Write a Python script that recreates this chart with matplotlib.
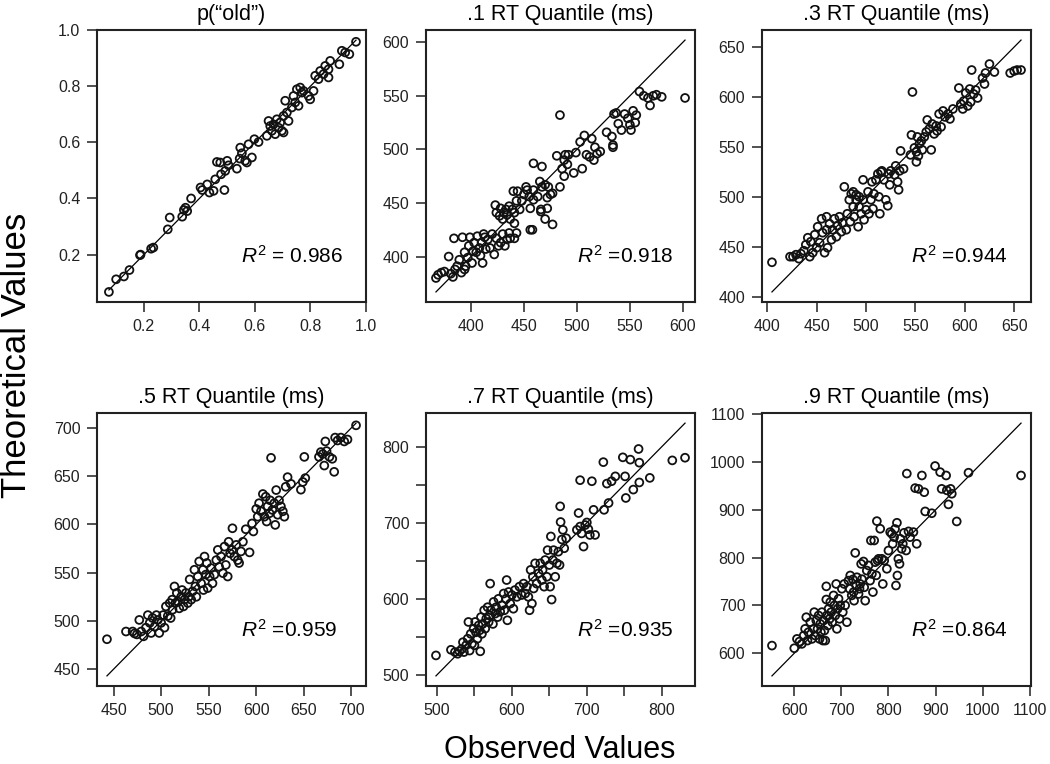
import matplotlib
matplotlib.use("Agg")
import matplotlib.pyplot as plt
import numpy as np

plt.rcParams['font.family'] = ['Liberation Sans', 'DejaVu Sans']
plt.rcParams['mathtext.fontset'] = 'custom'
plt.rcParams['mathtext.rm'] = 'Liberation Sans'
plt.rcParams['mathtext.it'] = 'Liberation Sans:italic'

# ---------------- data ----------------
titles = ['p(\u201cold\u201d)', '.1 RT Quantile (ms)', '.3 RT Quantile (ms)',
          '.5 RT Quantile (ms)', '.7 RT Quantile (ms)', '.9 RT Quantile (ms)']
r2_labels = ['$R^2$ = 0.986', '$R^2$ =0.918', '$R^2$ =0.944',
             '$R^2$ =0.959', '$R^2$ =0.935', '$R^2$ =0.864']

pold_obs = [0.074, 0.100, 0.128, 0.148, 0.186, 0.188, 0.226, 0.234, 0.286, 0.293,
            0.338, 0.344, 0.350, 0.356, 0.370, 0.404, 0.410, 0.428, 0.436, 0.451,
            0.457, 0.463, 0.475, 0.478, 0.490, 0.493, 0.500, 0.505, 0.535, 0.545,
            0.547, 0.553, 0.565, 0.571, 0.577, 0.589, 0.598, 0.613, 0.643, 0.649,
            0.655, 0.661, 0.667, 0.673, 0.679, 0.685, 0.691, 0.697, 0.703, 0.703,
            0.709, 0.715, 0.721, 0.733, 0.739, 0.745, 0.751, 0.757, 0.763, 0.769,
            0.775, 0.793, 0.799, 0.811, 0.817, 0.829, 0.835, 0.847, 0.853, 0.865,
            0.865, 0.871, 0.904, 0.913, 0.925, 0.940, 0.964]
pold_theo = [0.067, 0.112, 0.122, 0.145, 0.198, 0.200, 0.221, 0.225, 0.290, 0.332,
             0.335, 0.359, 0.367, 0.355, 0.400, 0.439, 0.430, 0.450, 0.421, 0.427,
             0.468, 0.530, 0.528, 0.486, 0.430, 0.498, 0.534, 0.518, 0.506, 0.542,
             0.581, 0.561, 0.534, 0.528, 0.593, 0.546, 0.611, 0.601, 0.623, 0.676,
             0.658, 0.641, 0.664, 0.629, 0.682, 0.652, 0.670, 0.641, 0.694, 0.635,
             0.748, 0.706, 0.676, 0.724, 0.765, 0.742, 0.789, 0.730, 0.795, 0.777,
             0.783, 0.765, 0.753, 0.783, 0.837, 0.825, 0.854, 0.843, 0.872, 0.860,
             0.831, 0.890, 0.878, 0.926, 0.920, 0.914, 0.958]

q1_obs = [367, 369, 372, 375, 379, 381, 383, 384, 385, 387, 389, 391, 392, 394, 394,
          395, 397, 398, 399, 401, 402, 403, 405, 406, 408, 409, 410, 411, 412, 413,
          414, 416, 418, 420, 422, 424, 426, 428, 430, 432, 434, 436, 437, 441, 443,
          423, 424, 427, 428, 430, 431, 433, 434, 436, 437, 439, 441, 441, 440, 443,
          444, 446, 448, 450, 452, 453, 455, 456, 456, 458, 459, 459, 463, 466, 467,
          459, 467, 465, 470, 472, 473, 475, 477, 466, 472, 470, 477,
          481, 484, 484, 486, 488, 488, 489, 491, 492, 497, 499, 503, 505, 507, 509,
          512, 514, 516, 517, 519, 522, 528, 533, 534, 534, 535, 537, 539, 542, 545,
          548, 550, 551, 553, 555, 556, 559, 563, 567, 569, 572, 575, 580, 602]
q1_theo = [380, 383, 385, 386, 400, 384, 381, 417, 388, 391, 397, 385, 418, 388, 404,
           391, 399, 410, 418, 394, 405, 413, 404, 419, 408, 401, 413, 394, 421, 418,
           407, 416, 408, 421, 402, 417, 410, 413, 421, 410, 416, 422, 417, 417, 422,
           448, 441, 438, 445, 435, 441, 444, 439, 447, 435, 444, 431, 441, 461, 452,
           461, 444, 452, 458, 465, 462, 456, 445, 425, 425, 462, 453, 456, 444, 465,
           487, 484, 470, 467, 455, 465, 458, 459, 442, 445, 435, 430,
           494, 465, 532, 482, 490, 475, 495, 486, 495, 478, 497, 507, 482, 513, 495,
           493, 510, 490, 502, 496, 498, 516, 512, 504, 502, 533, 534, 524, 518, 533,
           529, 523, 518, 536, 525, 532, 554, 550, 548, 541, 550, 551, 549, 548]

q3_obs = [404.7, 423, 426, 429, 432, 434, 437, 439, 441, 443, 444, 446, 448, 450, 451,
          453, 455, 456, 458, 460, 460, 461, 463, 465, 466, 468, 470, 471, 473, 475,
          476, 478, 480, 481, 483, 484, 485, 487, 487, 488, 490, 490, 492, 493, 493,
          495, 497, 497, 498, 500, 502, 503, 505, 506, 507, 508, 510, 512, 513, 514,
          515, 516, 518, 520, 522, 523, 524, 525, 529, 530, 532, 533, 534, 535, 538,
          545, 546, 547, 549, 551, 551, 552, 553, 554, 556, 557, 559, 561, 562, 564,
          566, 567, 569, 571, 572, 574, 576, 578, 580, 583, 585, 588, 594, 596, 598,
          599, 601, 603, 605, 606, 607, 609, 611, 613, 618, 620, 621, 625, 630, 646,
          650, 653, 657]
q3_theo = [434.4, 440, 440, 442, 438, 443, 446, 452, 459, 440, 455, 444, 462, 449, 470,
           454, 478, 464, 444, 480, 467, 449, 473, 457, 467, 478, 460, 471, 480, 465,
           474, 510, 467, 483, 497, 475, 503, 490, 505, 480, 497, 502, 470, 490, 500,
           483, 517, 497, 477, 487, 505, 483, 497, 515, 488, 503, 517, 523, 500, 483,
           525, 526, 517, 497, 491, 523, 512, 526, 522, 531, 515, 507, 526, 546, 528,
           542, 562, 605, 549, 535, 545, 560, 541, 553, 556, 547, 560, 565, 577, 568,
           547, 573, 563, 571, 566, 583, 570, 586, 580, 583, 578, 588, 609, 593, 588,
           596, 604, 591, 608, 595, 627, 603, 607, 599, 619, 613, 624, 633, 625, 624,
           626, 627, 627]

q5_obs = [443, 463, 470, 472, 474.5, 477, 479, 481.5, 484, 486, 488, 489.5, 491, 493,
          495, 496.5, 498, 500, 502, 503.5, 505, 507, 509, 510, 511.6, 512, 514, 515,
          516.5, 517.6, 519, 521, 522, 523.5, 524.6, 526, 528, 529, 530, 531.6, 533,
          535, 536, 537, 538.6, 540, 542, 544, 544.5, 545.6, 547, 548, 549, 551, 552.6,
          554, 556, 558, 559.6, 561, 563, 565, 566.6, 568, 570, 571, 572.5, 574.6, 575,
          577, 579, 580.6, 582, 584, 586, 589, 593, 595.6, 597, 600, 601.6, 603, 605,
          607, 608.6, 610, 611, 612, 614, 614.6, 615.6, 617, 619, 620, 621, 622.6, 624,
          626, 628, 629.6, 631, 633, 636.6, 647, 649, 650.6, 651.6, 666, 668, 670,
          671.6, 672.7, 674, 677, 680, 682, 683, 685.6, 689, 692.6, 696, 705]
q5_theo = [481, 489, 489, 487, 486, 501, 489, 484, 493, 506, 498, 487.5, 503, 494,
           506, 501, 487.5, 498, 506, 493, 515, 505, 518.5, 503, 522, 511.6, 535.7,
           518.5, 529, 520, 513, 525, 532, 515, 522, 529, 518.5, 525, 543, 522, 530.6,
           553, 535.7, 525, 546, 561.6, 539, 553, 532, 566.7, 548, 560, 534, 546, 554.7,
           539, 548, 563, 573.6, 556, 566.7, 549.5, 577, 558, 546, 582, 570, 573.6, 596,
           566.7, 578.8, 563, 560, 572, 582, 595, 571, 601, 592.7, 616, 608, 622, 613.6,
           631.5, 608, 628.7, 603, 618.7, 611.6, 625, 669, 615, 622, 599.5, 635.6, 610,
           625, 618.7, 613.6, 608, 639, 649, 642, 636, 644, 670, 648, 670, 675, 673,
           661, 686, 676, 670, 668, 654.5, 690, 687, 690, 686, 688, 702.7]

q7_obs = [498.7, 518.7, 524, 527.6, 530, 533, 534.7, 536, 539, 541, 542, 543.6, 545,
          546.7, 549, 550, 551, 552, 554, 555.6, 557, 557.8, 558.7, 560, 561, 563,
          564.4, 565.8, 567.6, 569, 570, 571, 572, 574.7, 575.6, 577.8, 579, 581, 582,
          584.4, 586.7, 589, 590, 592, 593, 594, 595.6, 597.8, 600, 602, 604, 606.7,
          610, 613, 615.6, 617.8, 620, 622, 623.6, 625, 626.7, 628, 629, 631, 633,
          635.6, 637.8, 640, 641, 643, 644.4, 646.7, 647.6, 650, 651, 652, 653, 654.7,
          655.6, 657.8, 660, 662, 663.6, 664.4, 665, 666.7, 668, 669.8, 672.4, 686.7,
          689, 691, 691, 693, 695.6, 697.8, 700, 702, 704, 706.7, 709, 711, 722, 723,
          726.7, 729, 733, 738, 748, 751, 752, 758, 762, 769, 770, 770, 784, 814, 831]
q7_theo = [525.6, 533, 530, 527.8, 531, 534, 543, 530, 539, 547.6, 569.6, 532, 554,
           541, 560.8, 539, 569.6, 556, 547.6, 565, 558.6, 531, 576, 554, 567, 585,
           560.8, 574, 589, 569.6, 578, 620, 585, 567, 596, 580.6, 589, 576, 600, 583,
           591.6, 607, 585, 600, 624.7, 571.8, 609, 593.8, 605, 587, 611.5, 602.6, 616,
           605, 620, 607, 616, 602.6, 585, 638, 593.8, 629, 613.6, 646.7, 620, 633.5,
           646.7, 624.7, 638, 616, 651, 629, 664, 644.5, 616, 682, 599, 651, 664, 629,
           646.7, 662, 644.5, 721.6, 701, 678, 690.7, 666.5, 679.7, 690.7, 712.8, 756,
           695, 686, 668.7, 697, 700.4, 691.6, 684, 754.6, 717, 684, 779.7, 717, 751.5,
           726, 754.6, 761, 786, 761, 732.6, 783, 743.6, 797, 779, 753, 759, 782, 785.5]

q9_obs = [552.6, 600, 605.7, 611, 616, 620, 623, 625.5, 628, 630, 634, 637.5, 641,
          642.4, 644.6, 646.7, 649.5, 651.6, 653.7, 655, 656.6, 658.7, 660.8, 662, 664,
          665.8, 668, 668, 669, 671.4, 672.8, 675, 676.4, 678.5, 680.6, 683.4, 685, 687,
          689, 690.5, 692, 694, 696, 697.6, 701, 703, 706, 708, 711.7, 715, 717.4,
          718.8, 722, 724.5, 726, 727, 729.4, 731.5, 733, 736.5, 738.6, 740, 742, 743.6,
          747, 748.5, 750.6, 754, 757.7, 761, 762.7, 764.8, 767, 769.7, 771.8, 774,
          775.4, 776.8, 779, 782.5, 786, 788, 791, 796.6, 800, 803.7, 807, 809, 812,
          814, 816, 818, 819, 821, 823.5, 825, 828, 830.5, 833, 837.6, 839, 842.6, 846,
          853, 856.7, 860, 863.8, 871, 876, 878, 892, 899, 909.8, 913, 922.5, 924,
          927.4, 932, 934.5, 945, 970, 1081.6]
q9_theo = [616, 610.5, 630, 624.4, 619.6, 637, 651, 675.4, 626.5, 644, 665, 630, 651,
           686, 637, 668.4, 651, 679, 630, 661.5, 644, 686, 626.5, 668.4, 647.5, 626.5,
           712.4, 740, 679, 658, 693, 672, 707, 686, 665, 721, 700, 679, 745, 651, 693,
           714, 672, 700, 735, 686, 745, 700, 665, 752, 735, 762.7, 721, 754.5, 728, 710,
           810, 741.8, 759, 724, 735, 745, 787, 755, 792, 738, 710, 773, 783.7, 752,
           836, 766, 728, 836, 790.6, 763, 876.5, 794, 797.6, 860.5, 797.6, 745, 794,
           776.7, 815, 853.5, 850, 829, 843, 860, 741.8, 873, 762.7, 797.6, 787, 839.5,
           818.6, 829, 852, 815, 976, 855, 843, 853.5, 945.6, 829, 944, 972, 937, 896.8,
           893, 991.8, 979, 944, 972, 941, 911.5, 944, 933.8, 875.8, 977.8, 972]

observed = [pold_obs, q1_obs, q3_obs, q5_obs, q7_obs, q9_obs]
theoretical = [pold_theo, q1_theo, q3_theo, q5_theo, q7_theo, q9_theo]

major_ticks = [[0.2, 0.4, 0.6, 0.8, 1.0],
               [400, 450, 500, 550, 600],
               [400, 450, 500, 550, 600, 650],
               [450, 500, 550, 600, 650, 700],
               [500, 550, 600, 650, 700, 750, 800],
               [600, 700, 800, 900, 1000, 1100]]

# ---------------- layout ----------------
fig = plt.figure(figsize=(10.5, 7.64), dpi=100)
W, H = 1050.0, 764.0
lefts = [97, 426, 762]
rows = [(30, 302), (413, 686)]
r2_pos = [(0.915, 0.17), (0.918, 0.17), (0.915, 0.17),
          (0.892, 0.205), (0.918, 0.205), (0.915, 0.205)]

for i in range(6):
    r, c = divmod(i, 3)
    top, bot = rows[r]
    ax = fig.add_axes([lefts[c] / W, (H - bot) / H, 269 / W, (bot - top) / H])
    x = np.array(observed[i], dtype=float)
    y = np.array(theoretical[i], dtype=float)
    lo = min(x.min(), y.min())
    hi = max(x.max(), y.max())
    pad = 0.04 * (hi - lo)
    ax.set_xlim(lo - pad, hi + pad)
    ax.set_ylim(lo - pad, hi + pad)
    ax.plot([x.min(), x.max()], [x.min(), x.max()], color='black', lw=0.9, zorder=2)
    ax.scatter(x, y, s=32, facecolors='none', edgecolors='#111111',
               linewidths=1.3, zorder=3)
    ticks = major_ticks[i]
    ax.set_xticks(ticks)
    ax.set_yticks(ticks)
    if i == 0:
        labels = ['%.1f' % t for t in ticks]
    elif i == 4:
        labels = [str(t) if t % 100 == 0 else '' for t in ticks]
    else:
        labels = [str(t) for t in ticks]
    ax.set_xticklabels(labels)
    ax.set_yticklabels(labels)
    ax.tick_params(direction='out', length=7, width=1.1, pad=5,
                   labelsize=11.5, colors='#222222')
    for sp in ax.spines.values():
        sp.set_linewidth(1.5)
        sp.set_color('#222222')
    ax.set_title(titles[i], fontsize=15.5, pad=7)
    ax.text(r2_pos[i][0], r2_pos[i][1], r2_labels[i], transform=ax.transAxes,
            ha='right', va='center', fontsize=15)

fig.text(0.5 / W, 1 - 355 / H, 'Theoretical Values', rotation=90,
         ha='left', va='center', fontsize=25)
fig.text(560 / W, 1 - 750 / H, 'Observed Values', ha='center', va='center',
         fontsize=22)

fig.savefig('out.png', dpi=100)
